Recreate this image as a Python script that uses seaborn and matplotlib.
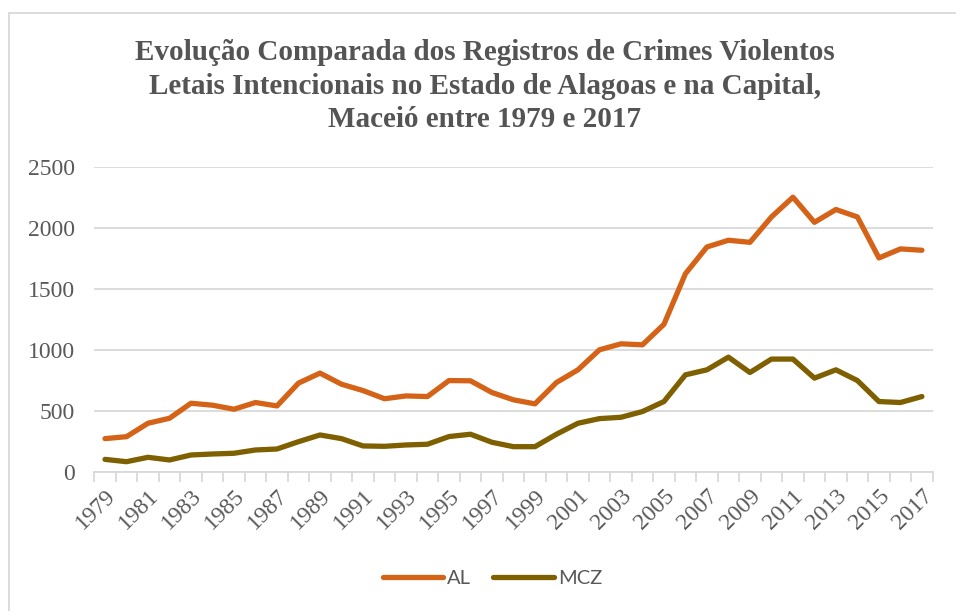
import numpy as np
import pandas as pd
import matplotlib.pyplot as plt
import matplotlib.patches as mpatches
import seaborn as sns

# dados
anos = list(range(1979, 2018))
al = [271, 287, 397, 438, 561, 545, 512, 567, 539, 726,
      808, 717, 665, 598, 621, 616, 747, 745, 649, 589,
      556, 731, 835, 999, 1048, 1040, 1208, 1623, 1842, 1897,
      1880, 2088, 2250, 2044, 2149, 2088, 1752, 1826, 1815]
mcz = [101, 82, 118, 96, 137, 145, 151, 178, 186, 246,
       301, 271, 211, 208, 219, 225, 288, 307, 241, 205,
       205, 307, 397, 435, 446, 493, 575, 794, 835, 939,
       813, 923, 923, 767, 835, 747, 575, 567, 616]

df = pd.DataFrame({
    'Ano': anos * 2,
    'Registros': al + mcz,
    'Serie': ['AL'] * len(anos) + ['MCZ'] * len(anos),
})

sns.set_theme(style='white')
plt.rcParams['font.family'] = ['Liberation Serif', 'DejaVu Serif']

cinza = '#595959'
cores = {'AL': '#D56317', 'MCZ': '#7F6000'}

fig = plt.figure(figsize=(9.56, 6.11), dpi=100)
ax = fig.add_axes([0.0986, 0.228, 0.8770, 0.4992])

sns.lineplot(data=df, x='Ano', y='Registros', hue='Serie', palette=cores,
             linewidth=3.8, ax=ax, legend=False)
for ln in ax.lines:
    ln.set_solid_capstyle('round')
    ln.set_solid_joinstyle('round')

ax.set_xlim(1978.5, 2017.5)
ax.set_ylim(0, 2500)
ax.set_yticks(range(0, 2501, 500))
ax.set_xticks(anos[::2])
ax.set_xticks(np.arange(1978.5, 2018, 1), minor=True)
ax.set_xlabel('')
ax.set_ylabel('')

ax.yaxis.grid(True, color='#D9D9D9', linewidth=1.3)
ax.set_axisbelow(True)
for s in ['top', 'right', 'left']:
    ax.spines[s].set_visible(False)
ax.spines['bottom'].set_color('#D9D9D9')
ax.spines['bottom'].set_linewidth(1.3)

ax.tick_params(axis='y', length=0, pad=14, labelsize=17, labelcolor=cinza)
ax.tick_params(axis='x', which='major', length=0, pad=10, labelsize=17,
               labelcolor=cinza)
ax.tick_params(axis='x', which='minor', length=7, width=1.3, color='#D9D9D9',
               direction='out')
ax.tick_params(axis='x', which='minor', bottom=True)
for lbl in ax.get_xticklabels():
    lbl.set_rotation(45)
    lbl.set_ha('right')
    lbl.set_rotation_mode('anchor')

fig.text(0.507, 0.859,
         'Evolução Comparada dos Registros de Crimes Violentos\n'
         'Letais Intencionais no Estado de Alagoas e na Capital,\n'
         'Maceió entre 1979 e 2017',
         ha='center', va='center', fontsize=21, fontweight='bold',
         color='#545454', linespacing=1.3)

handles = [plt.Line2D([], [], color=cores[k], linewidth=3.8,
                      solid_capstyle='round') for k in ['AL', 'MCZ']]
leg = fig.legend(handles, ['AL', 'MCZ'], loc='center', ncol=2,
                 bbox_to_anchor=(0.515, 0.054), frameon=False,
                 handlelength=3.0, handletextpad=0.2, columnspacing=1.1,
                 prop={'family': 'Lato', 'size': 14.5})
for t in leg.get_texts():
    t.set_color(cinza)

# moldura do gráfico
fig.patches.append(mpatches.Rectangle((9 / 956, -0.05), 1.1, 1 - 13 / 611 + 0.05,
                                      transform=fig.transFigure, fill=False,
                                      edgecolor='#D9D9D9', linewidth=1.3))

fig.savefig('out.png', dpi=100)
